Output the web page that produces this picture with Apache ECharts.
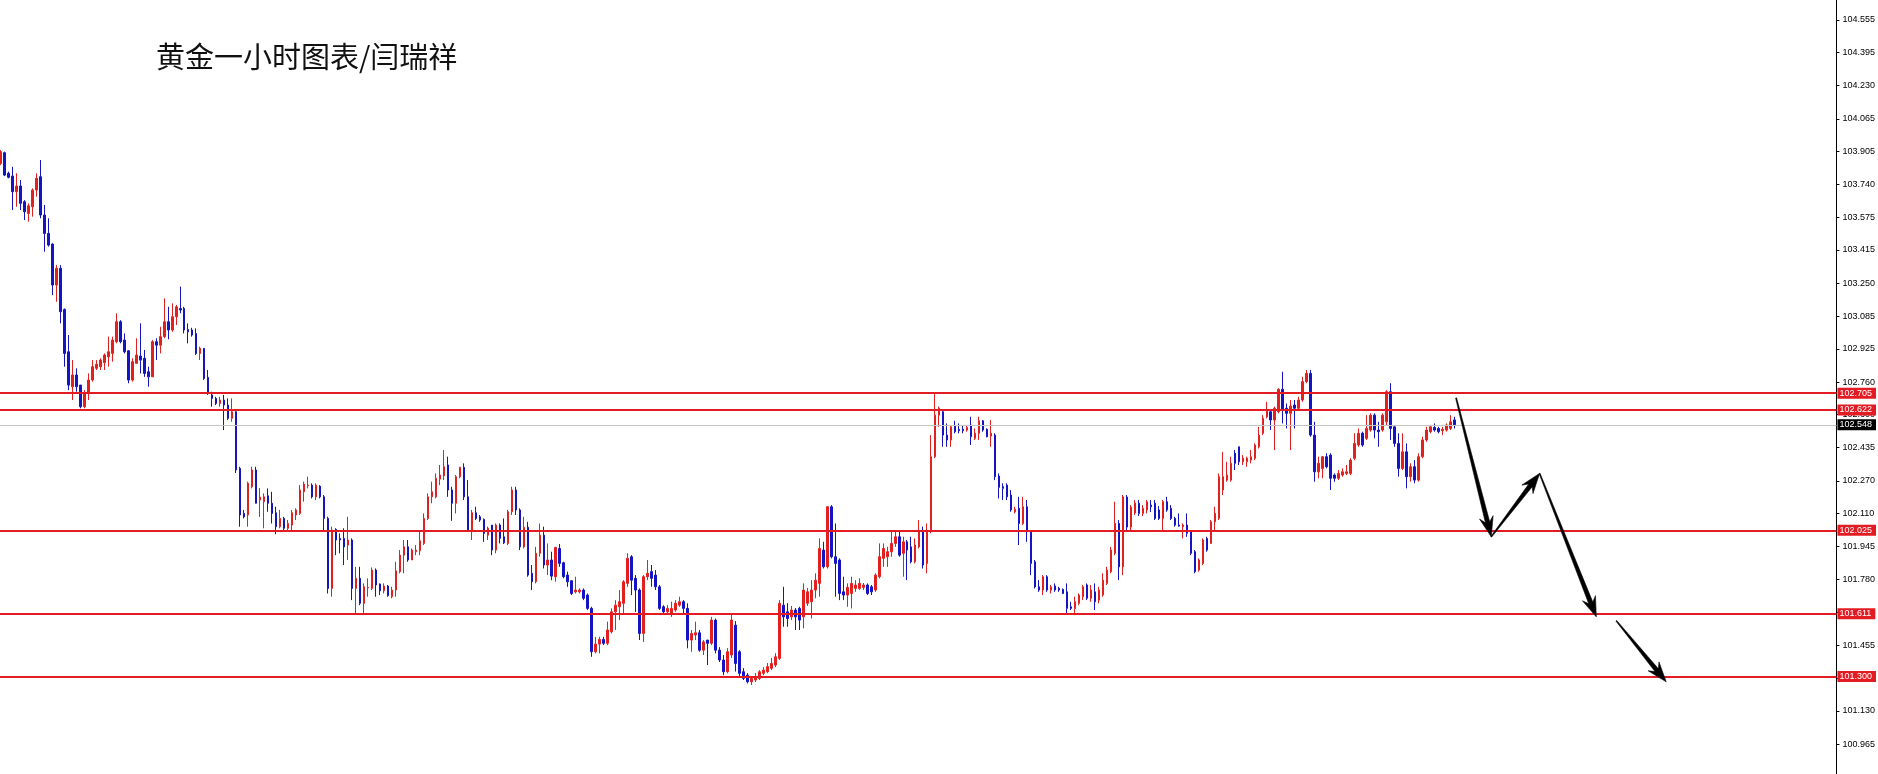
<!DOCTYPE html>
<html><head><meta charset="utf-8">
<script src="https://cdn.jsdelivr.net/npm/echarts@6/dist/echarts.min.js"></script>
<style>html,body{margin:0;padding:0;background:#fff}#c{width:1878px;height:774px}</style>
</head><body><div id="c"></div>
<script>
const chartTitle = '黄金一小时图表/闫瑞祥';

const opens = [
103.844,103.897,103.795,103.781,103.704,103.732,103.654,103.596,103.629,103.712,
103.778,103.588,103.497,103.444,103.241,103.324,103.120,102.910,102.737,102.795,
102.745,102.638,102.704,102.770,102.828,102.836,102.856,102.885,102.902,102.960,
103.059,102.968,102.915,102.770,102.853,102.889,102.878,102.811,102.786,102.960,
102.943,102.985,103.059,103.018,103.084,103.125,103.125,103.021,103.018,103.001,
102.902,102.927,102.783,102.696,102.679,102.654,102.671,102.646,102.580,102.613,
102.332,102.109,102.101,102.241,102.324,102.175,102.167,102.196,102.159,102.112,
102.043,102.084,102.035,102.051,102.101,102.109,102.216,102.246,102.249,102.191,
102.244,102.191,102.084,101.737,102.030,101.985,101.985,101.952,101.977,101.737,
101.787,101.663,101.739,101.737,101.828,101.759,101.725,101.749,101.696,101.729,
101.820,101.902,101.943,101.878,101.919,101.924,101.960,102.084,102.191,102.191,
102.279,102.295,102.349,102.225,102.159,102.291,102.337,102.191,102.026,102.112,
102.092,102.079,102.001,102.051,101.927,102.051,101.993,101.960,102.117,102.225,
102.126,101.943,102.040,101.812,101.770,101.911,102.001,101.853,101.878,101.795,
101.935,101.864,101.803,101.775,101.720,101.720,101.729,101.704,101.638,101.423,
101.461,101.484,101.465,101.522,101.621,101.646,101.663,101.762,101.894,101.787,
101.729,101.514,101.795,101.820,101.803,101.745,101.646,101.621,101.613,101.630,
101.654,101.671,101.638,101.481,101.506,101.517,101.431,101.481,101.465,101.580,
101.431,101.382,101.324,101.407,101.555,101.423,101.324,101.307,101.274,101.283,
101.291,101.316,101.324,101.341,101.357,101.390,101.654,101.621,101.596,101.630,
101.638,101.596,101.663,101.671,101.729,101.762,101.927,101.844,102.142,101.894,
101.878,101.720,101.704,101.712,101.737,101.737,101.742,101.754,101.745,101.729,
101.795,101.886,101.894,101.919,101.960,101.993,101.911,101.968,101.943,101.869,
101.943,102.018,101.861,102.018,102.390,102.596,102.613,102.497,102.473,102.542,
102.526,102.526,102.522,102.547,102.481,102.506,102.568,102.526,102.492,102.497,
102.294,102.241,102.249,102.200,102.117,102.134,102.059,102.142,102.016,101.869,
101.745,101.729,101.795,101.729,101.749,101.737,101.732,101.720,101.646,101.638,
101.663,101.696,101.754,101.688,101.720,101.679,101.704,101.762,101.820,101.911,
102.059,101.844,102.190,102.041,102.111,102.159,102.109,102.126,102.150,102.159,
102.126,102.084,102.167,102.134,102.084,102.051,102.043,102.051,102.018,101.919,
101.828,101.861,101.985,101.960,102.067,102.084,102.225,102.274,102.274,102.407,
102.439,102.365,102.365,102.373,102.382,102.439,102.506,102.588,102.613,102.572,
102.613,102.724,102.630,102.605,102.646,102.630,102.671,102.762,102.803,102.497,
102.315,102.332,102.390,102.398,102.299,102.283,102.299,102.307,102.307,102.382,
102.448,102.506,102.481,102.522,102.596,102.522,102.522,102.563,102.712,102.538,
102.456,102.332,102.414,102.291,102.340,102.274,102.390,102.473,102.514,102.535,
102.530,102.519,102.522,102.530,102.572];

const closes = [
103.902,103.786,103.775,103.704,103.732,103.646,103.604,103.634,103.712,103.770,
103.588,103.497,103.439,103.241,103.324,103.109,102.902,102.745,102.795,102.737,
102.638,102.704,102.770,102.836,102.848,102.869,102.894,102.910,102.968,103.059,
102.960,102.910,102.770,102.861,102.894,102.869,102.803,102.786,102.960,102.943,
102.985,103.059,103.018,103.084,103.133,103.117,103.018,103.009,102.993,102.902,
102.927,102.778,102.704,102.679,102.654,102.671,102.646,102.580,102.613,102.324,
102.101,102.092,102.258,102.324,102.159,102.190,102.191,102.159,102.109,102.043,
102.084,102.035,102.059,102.112,102.126,102.225,102.254,102.249,102.191,102.249,
102.191,102.084,101.737,102.026,101.977,101.977,101.943,101.977,101.737,101.787,
101.663,101.745,101.742,101.828,101.754,101.725,101.749,101.701,101.729,101.824,
101.902,101.943,101.878,101.927,101.927,101.973,102.084,102.191,102.216,102.283,
102.299,102.340,102.225,102.159,102.291,102.337,102.191,102.026,102.112,102.084,
102.076,102.010,102.035,101.927,102.051,101.985,101.963,102.117,102.225,102.126,
101.943,102.040,101.803,101.770,101.911,102.001,101.853,101.878,101.798,101.940,
101.861,101.795,101.770,101.712,101.729,101.729,101.688,101.638,101.423,101.461,
101.484,101.465,101.531,101.621,101.654,101.671,101.770,101.886,101.778,101.729,
101.514,101.795,101.812,101.787,101.745,101.638,101.621,101.638,101.638,101.663,
101.671,101.638,101.481,101.514,101.517,101.431,101.472,101.465,101.580,101.431,
101.382,101.324,101.423,101.580,101.365,101.316,101.291,101.274,101.291,101.299,
101.324,101.332,101.349,101.365,101.398,101.663,101.596,101.588,101.630,101.596,
101.580,101.729,101.720,101.729,101.778,101.935,101.844,102.142,101.894,101.861,
101.712,101.704,101.742,101.762,101.754,101.762,101.754,101.712,101.720,101.803,
101.894,101.935,101.919,101.960,101.993,101.902,101.968,101.927,101.869,101.952,
102.018,101.853,102.018,102.390,102.596,102.630,102.497,102.473,102.538,102.514,
102.519,102.519,102.535,102.489,102.506,102.568,102.522,102.489,102.506,102.291,
102.238,102.233,102.191,102.126,102.129,102.059,102.142,102.018,101.861,101.745,
101.729,101.795,101.729,101.745,101.729,101.729,101.712,101.638,101.638,101.671,
101.704,101.745,101.688,101.729,101.671,101.729,101.778,101.828,101.927,102.059,
101.844,102.191,102.041,102.140,102.160,102.109,102.134,102.167,102.142,102.084,
102.084,102.167,102.126,102.084,102.051,102.046,102.051,102.010,101.911,101.820,
101.878,101.977,101.927,102.067,102.109,102.291,102.291,102.299,102.357,102.357,
102.365,102.382,102.382,102.390,102.448,102.497,102.580,102.621,102.572,102.630,
102.724,102.621,102.605,102.641,102.630,102.671,102.762,102.803,102.497,102.315,
102.357,102.390,102.340,102.283,102.283,102.307,102.315,102.315,102.373,102.456,
102.506,102.448,102.530,102.596,102.522,102.514,102.596,102.712,102.530,102.456,
102.332,102.414,102.291,102.340,102.274,102.390,102.473,102.522,102.538,102.522,
102.514,102.526,102.547,102.563,102.548];

const lows = [
103.836,103.781,103.770,103.613,103.629,103.613,103.563,103.555,103.580,103.679,
103.572,103.406,103.431,103.191,103.158,103.051,102.836,102.720,102.671,102.712,
102.630,102.630,102.671,102.762,102.820,102.820,102.820,102.836,102.861,102.952,
102.952,102.902,102.754,102.762,102.853,102.803,102.786,102.737,102.786,102.869,
102.902,102.977,102.972,103.009,103.043,103.101,103.001,102.952,102.985,102.894,
102.869,102.770,102.696,102.638,102.646,102.638,102.522,102.572,102.563,102.309,
102.043,102.084,102.043,102.233,102.159,102.091,102.035,102.117,102.059,102.006,
102.035,102.026,102.026,102.026,102.076,102.101,102.167,102.233,102.183,102.175,
102.183,102.026,101.712,101.696,101.902,101.911,101.853,101.878,101.679,101.613,
101.654,101.605,101.696,101.729,101.696,101.704,101.712,101.696,101.688,101.696,
101.812,101.812,101.869,101.878,101.902,101.902,101.952,102.076,102.159,102.183,
102.249,102.274,102.191,102.072,102.109,102.283,102.175,102.018,101.977,102.076,
102.067,101.968,101.977,101.902,101.911,101.960,101.957,101.952,102.101,102.101,
101.927,101.935,101.795,101.729,101.762,101.894,101.836,101.803,101.778,101.770,
101.844,101.787,101.745,101.704,101.712,101.712,101.679,101.630,101.398,101.415,
101.415,101.456,101.456,101.514,101.531,101.580,101.613,101.745,101.704,101.621,
101.481,101.472,101.778,101.745,101.729,101.630,101.613,101.605,101.596,101.621,
101.646,101.613,101.440,101.423,101.481,101.423,101.407,101.357,101.456,101.415,
101.372,101.307,101.316,101.392,101.325,101.303,101.283,101.266,101.258,101.273,
101.283,101.307,101.317,101.332,101.347,101.382,101.547,101.547,101.580,101.531,
101.531,101.539,101.650,101.588,101.688,101.696,101.836,101.836,101.886,101.696,
101.679,101.679,101.646,101.638,101.720,101.729,101.729,101.704,101.704,101.720,
101.787,101.844,101.844,101.894,101.943,101.894,101.795,101.778,101.861,101.861,
101.935,101.836,101.812,102.011,102.383,102.538,102.439,102.439,102.439,102.506,
102.506,102.506,102.514,102.448,102.473,102.473,102.514,102.486,102.439,102.274,
102.183,102.175,102.175,102.117,102.109,101.952,102.051,101.968,101.803,101.737,
101.720,101.704,101.720,101.712,101.720,101.720,101.709,101.613,101.630,101.605,
101.654,101.679,101.679,101.671,101.630,101.663,101.696,101.754,101.812,101.902,
101.778,101.803,102.026,102.026,102.101,102.096,102.096,102.109,102.116,102.076,
102.076,102.026,102.117,102.076,102.043,102.043,101.985,101.993,101.902,101.812,
101.820,101.853,101.919,101.960,102.018,102.076,102.200,102.266,102.266,102.324,
102.349,102.349,102.340,102.357,102.373,102.431,102.497,102.580,102.522,102.423,
102.605,102.555,102.530,102.423,102.530,102.621,102.662,102.754,102.489,102.266,
102.283,102.283,102.332,102.225,102.266,102.274,102.291,102.299,102.299,102.373,
102.439,102.439,102.473,102.514,102.481,102.439,102.514,102.547,102.473,102.439,
102.291,102.324,102.233,102.266,102.258,102.266,102.382,102.464,102.506,102.514,
102.506,102.497,102.514,102.522,102.530];

const highs = [
103.910,103.902,103.803,103.827,103.795,103.762,103.662,103.646,103.720,103.795,
103.861,103.638,103.572,103.448,103.340,103.340,103.125,102.993,102.869,102.828,
102.745,102.720,102.803,102.869,102.869,102.878,102.902,102.985,102.985,103.101,
103.067,103.001,102.919,102.878,102.977,103.051,102.919,102.836,102.968,102.977,
103.034,103.175,103.133,103.150,103.142,103.233,103.133,103.051,103.029,103.026,
102.935,102.927,102.820,102.712,102.687,102.687,102.696,102.679,102.679,102.621,
102.340,102.126,102.266,102.340,102.340,102.235,102.208,102.233,102.216,102.142,
102.126,102.092,102.076,102.126,102.134,102.249,102.266,102.291,102.258,102.258,
102.249,102.200,102.092,102.043,102.035,102.010,102.035,102.092,101.985,101.844,
101.844,101.762,101.787,101.841,101.836,101.762,101.762,101.754,101.745,101.869,
101.927,101.977,101.977,101.935,101.952,102.026,102.109,102.208,102.266,102.307,
102.349,102.423,102.390,102.241,102.299,102.340,102.357,102.274,102.126,102.142,
102.101,102.084,102.043,102.051,102.059,102.059,102.084,102.126,102.241,102.241,
102.134,102.092,102.067,101.853,101.943,102.059,102.043,101.960,101.919,101.943,
101.957,101.869,101.820,101.778,101.795,101.737,101.737,101.712,101.646,101.497,
101.497,101.497,101.572,101.638,101.679,101.729,101.778,101.911,101.902,101.803,
101.737,101.803,101.878,101.853,101.828,101.754,101.654,101.654,101.671,101.679,
101.696,101.679,101.663,101.531,101.572,101.531,101.481,101.481,101.596,101.588,
101.446,101.407,101.441,101.605,101.575,101.431,101.342,101.317,101.303,101.317,
101.332,101.347,101.367,101.392,101.416,101.679,101.745,101.664,101.650,101.640,
101.646,101.762,101.739,101.778,101.812,101.985,101.968,102.142,102.150,102.059,
101.886,101.795,101.762,101.795,101.778,101.787,101.764,101.762,101.754,101.812,
101.960,101.960,101.943,102.018,102.026,102.018,101.993,101.977,101.993,101.985,
102.076,102.043,102.059,102.497,102.704,102.638,102.621,102.555,102.547,102.568,
102.555,102.547,102.547,102.588,102.530,102.588,102.572,102.530,102.572,102.506,
102.307,102.258,102.258,102.225,102.142,102.191,102.191,102.175,102.026,101.878,
101.778,101.803,101.803,101.754,101.762,101.745,101.737,101.762,101.671,101.696,
101.712,101.754,101.762,101.754,101.762,101.745,101.812,101.844,101.943,102.167,
102.076,102.200,102.200,102.150,102.175,102.175,102.150,102.175,102.175,102.175,
102.145,102.175,102.191,102.150,102.092,102.109,102.059,102.109,102.026,101.927,
101.886,101.985,101.993,102.076,102.142,102.307,102.414,102.365,102.390,102.423,
102.439,102.398,102.390,102.423,102.456,102.538,102.596,102.662,102.621,102.638,
102.729,102.811,102.654,102.671,102.671,102.687,102.786,102.820,102.820,102.563,
102.390,102.390,102.407,102.407,102.307,102.324,102.332,102.349,102.382,102.506,
102.530,102.514,102.596,102.605,102.605,102.563,102.605,102.720,102.754,102.547,
102.506,102.506,102.456,102.357,102.373,102.407,102.489,102.538,102.547,102.555,
102.538,102.538,102.555,102.596,102.588];

const priceTicks = [104.555,104.395,104.230,104.065,103.905,103.740,103.575,103.415,103.250,103.085,
  102.925,102.760,102.600,102.435,102.270,102.110,101.945,101.780,101.620,101.455,101.290,101.130,100.965];
const levelLines = [102.705, 102.622, 102.025, 101.611, 101.300];
const lastPrice = 102.548;

// projected path (bar index, price)
const arrowFromX = [364.4, 373.2, 385.3, 404.5];
const arrowFromY = [102.681, 101.993, 102.307, 101.577];
const arrowToX   = [373.2, 385.3, 399.5, 417.0];
const arrowToY   = [101.993, 102.307, 101.596, 101.274];

const UP = '#e2201f', DOWN = '#1414c4', LEVEL = '#e31b22';

const n = Math.min(opens.length, closes.length, lows.length, highs.length);
const candleData = [];
for (let i = 0; i < n; i++) candleData.push([i, opens[i], closes[i], lows[i], highs[i]]);
const arrowData = arrowFromX.map((x, i) => [x, arrowFromY[i], arrowToX[i], arrowToY[i]]);

function renderArrow(params, api) {
  const a = api.coord([api.value(0), api.value(1)]);
  const b = api.coord([api.value(2), api.value(3)]);
  const dx = b[0] - a[0], dy = b[1] - a[1];
  const len = Math.hypot(dx, dy);
  const ux = dx / len, uy = dy / len, nx = -uy, ny = ux;
  const headLen = 20, headHalf = 7, notch = 5, neck = 2.2, tail = 0.5;
  const base = [b[0] - ux * headLen, b[1] - uy * headLen];
  const nk = [b[0] - ux * (headLen - notch), b[1] - uy * (headLen - notch)];
  const pts = [
    [a[0] + nx * tail, a[1] + ny * tail],
    [nk[0] + nx * neck, nk[1] + ny * neck],
    [base[0] + nx * headHalf, base[1] + ny * headHalf],
    [b[0], b[1]],
    [base[0] - nx * headHalf, base[1] - ny * headHalf],
    [nk[0] - nx * neck, nk[1] - ny * neck],
    [a[0] - nx * tail, a[1] - ny * tail]
  ];
  return { type: 'polygon', shape: { points: pts }, style: { fill: '#000', stroke: '#000', lineWidth: 0.6 } };
}

const lineLabel = (bg) => ({
  show: true, position: 'end', distance: 1, formatter: p => Number(p.value).toFixed(3),
  color: '#fff', backgroundColor: bg, fontSize: 9, fontFamily: 'Liberation Sans',
  lineHeight: 10, padding: [1, 4, 0, 2]
});

const markData = levelLines.map(v => ({
  yAxis: v, lineStyle: { color: LEVEL, width: 2, type: 'solid' }, label: lineLabel(LEVEL)
}));
markData.unshift({ yAxis: lastPrice, lineStyle: { color: '#c4c4c4', width: 1, type: 'solid' }, label: lineLabel('#000') });

const chart = echarts.init(document.getElementById('c'), null, { renderer: 'canvas' });
chart.setOption({
  animation: false,
  backgroundColor: '#fff',
  title: {
    text: chartTitle, left: 151, top: 37,
    textStyle: { fontSize: 29, fontWeight: 'normal', color: '#111', fontFamily: 'Noto Sans CJK SC' }
  },
  grid: { left: 0, right: 39, top: 0, bottom: 0, containLabel: false },
  xAxis: {
    type: 'value', min: -0.125, max: 459.625, show: false,
    splitLine: { show: false }
  },
  yAxis: {
    type: 'value', position: 'right', min: 100.817, max: 104.654, scale: true,
    axisLine: { show: true, onZero: false, lineStyle: { color: '#000', width: 1 } },
    axisTick: { show: true, length: 3, lineStyle: { color: '#000' }, customValues: priceTicks },
    axisLabel: {
      show: true, customValues: priceTicks, formatter: v => Number(v).toFixed(3),
      color: '#000', fontSize: 9, fontFamily: 'Liberation Sans', margin: 6
    },
    splitLine: { show: false }
  },
  series: [
    {
      type: 'candlestick',
      data: candleData,
      encode: { x: 0, y: [1, 2, 3, 4] },
      barWidth: 2,
      itemStyle: { color: UP, color0: DOWN, borderColor: UP, borderColor0: DOWN, borderWidth: 1 },
      emphasis: { disabled: true },
      markLine: {
        silent: true, symbol: ['none', 'none'], precision: 3, animation: false,
        data: markData
      }
    },
    {
      type: 'custom',
      renderItem: renderArrow,
      data: arrowData,
      encode: { x: [0, 2], y: [1, 3] },
      clip: false,
      silent: true,
      z: 5
    }
  ]
});
</script>
</body></html>
